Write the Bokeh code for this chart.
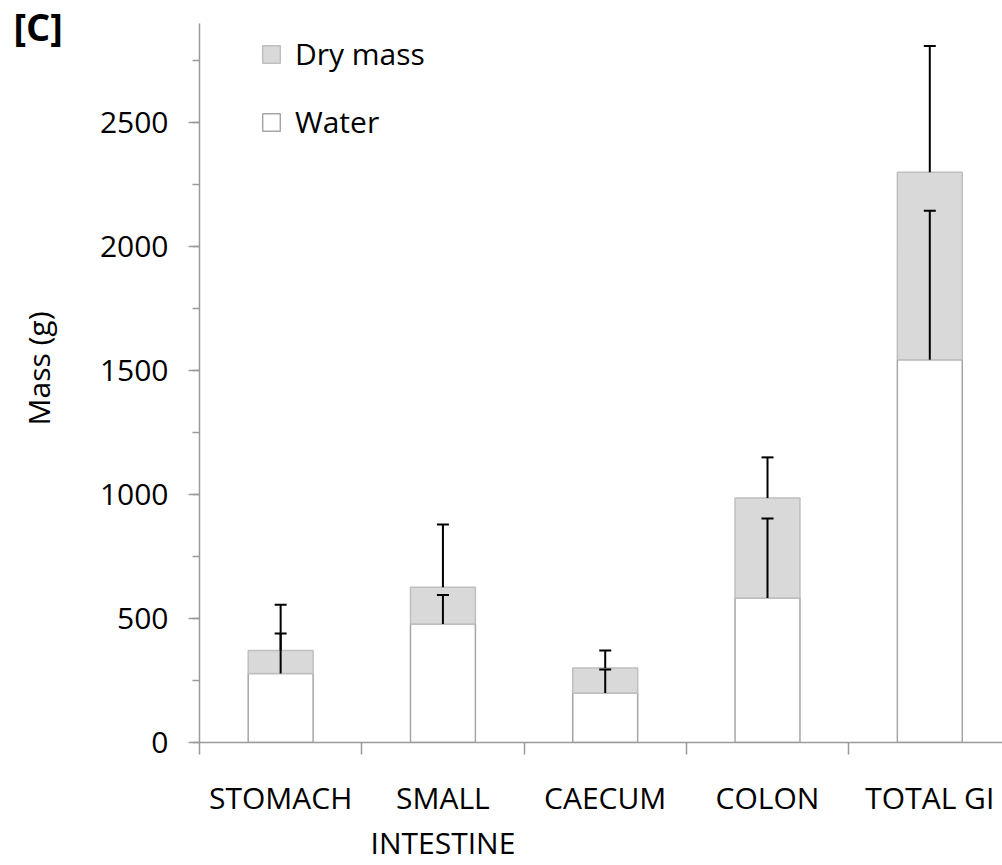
import math
from bokeh.plotting import figure
from bokeh.models import (Range1d, FixedTicker, SingleIntervalTicker, Whisker, TeeHead,
                          ColumnDataSource, Legend, LegendItem, Label)
from bokeh.embed import file_html
from bokeh.resources import INLINE

# ---- data ----
categories = ["STOMACH", "SMALL\nINTESTINE", "CAECUM", "COLON", "TOTAL GI"]
water = [278, 478, 200, 583, 1544]
dry_mass = [93, 148, 100, 403, 756]
water_err = [162, 117, 94, 320, 601]
dry_err = [185, 253, 71, 164, 509]
y_ticks_interval = 500
y_max = 2900

FONT = "Open Sans"

xc = [i + 0.5 for i in range(len(categories))]
total = [w + d for w, d in zip(water, dry_mass)]

src = ColumnDataSource(dict(x=xc, water=water, dry=dry_mass))

p = figure(width=1002, height=865, output_backend="svg", toolbar_location=None,
           x_range=Range1d(0, 4.948), y_range=Range1d(0, y_max),
           min_border_left=199, min_border_right=0, min_border_top=23, min_border_bottom=122)
p.background_fill_color = "white"
p.border_fill_color = "white"
p.outline_line_color = None
p.xgrid.visible = False
p.ygrid.visible = False

rs = p.vbar_stack(["water", "dry"], x="x", width=0.4, source=src,
                  fill_color=["white", "#d9d9d9"],
                  line_color=["#a6a6a6", "#bfbfbf"], line_width=1.5)

# error bars (upper only)
wsrc = ColumnDataSource(dict(x=xc, lo=water, hi=[w + e for w, e in zip(water, water_err)]))
dsrc = ColumnDataSource(dict(x=xc, lo=total, hi=[t + e for t, e in zip(total, dry_err)]))
for s in (wsrc, dsrc):
    wk = Whisker(source=s, base="x", lower="lo", upper="hi", dimension="height",
                 line_color="black", line_width=2, level="overlay",
                 upper_head=TeeHead(size=12, line_width=2, line_color="black"),
                 lower_head=None)
    p.add_layout(wk)

# axes
AX = "#9a9a9a"
xa = p.xaxis[0]
xa.ticker = FixedTicker(ticks=xc, minor_ticks=list(range(len(categories) + 1)))
xa.major_label_overrides = {x: c for x, c in zip(xc, categories)}
xa.major_tick_out = 0
xa.major_tick_in = 0
xa.minor_tick_out = 12
xa.minor_tick_in = 0
xa.minor_tick_line_color = AX
xa.minor_tick_line_width = 1.5
xa.axis_line_color = AX
xa.axis_line_width = 1.5
xa.major_label_standoff = 22
xa.major_label_text_font = FONT
xa.major_label_text_font_size = "30px"
xa.major_label_text_color = "black"
xa.major_label_text_line_height = 1.1

ya = p.yaxis[0]
ya.ticker = SingleIntervalTicker(interval=y_ticks_interval, num_minor_ticks=2)
ya.major_tick_out = 11
ya.major_tick_in = 0
ya.minor_tick_out = 7
ya.minor_tick_in = 0
ya.major_tick_line_color = AX
ya.minor_tick_line_color = AX
ya.major_tick_line_width = 1.5
ya.minor_tick_line_width = 1.5
ya.axis_line_color = AX
ya.axis_line_width = 1.5
ya.major_label_standoff = 20
ya.major_label_text_font = FONT
ya.major_label_text_font_size = "30px"
ya.major_label_text_color = "black"

legend = Legend(items=[LegendItem(label="Dry mass", renderers=[rs[1]]),
                       LegendItem(label="Water", renderers=[rs[0]])],
                location=(61, 600))
legend.background_fill_alpha = 0
legend.border_line_color = None
legend.label_text_font = FONT
legend.label_text_font_size = "30px"
legend.label_text_color = "black"
legend.glyph_width = 22
legend.glyph_height = 22
legend.spacing = 27
legend.label_standoff = 13
legend.padding = 8
legend.margin = 0
p.add_layout(legend)

# panel label "[C]" in the top-left corner of the canvas (placed in the left border panel)
title = Label(x=13, y=-1, x_units="canvas", y_units="canvas", text="[C]",
              text_font=FONT, text_font_size="38px", text_font_style="bold",
              text_baseline="top", text_align="left", text_color="black")
p.add_layout(title, "left")

# y axis title, rotated, in the left border
ylab = Label(x=38, y=368, x_units="canvas", y_units="canvas", text="Mass (g)", angle=math.pi / 2,
             text_font=FONT, text_font_size="30px", text_baseline="middle", text_align="center",
             text_color="black")
p.add_layout(ylab, "left")

open("out.html", "w").write(file_html(p, INLINE))
